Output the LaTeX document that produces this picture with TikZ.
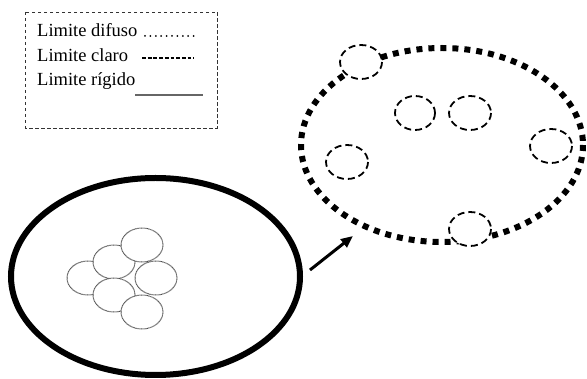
\documentclass[tikz,border=0pt]{standalone}
\usepackage{fontspec}
\setmainfont{Liberation Serif}
\usetikzlibrary{arrows.meta}
\begin{document}
\begin{tikzpicture}[x=1pt,y=-1pt,
  legendbox/.style={draw=black!80, line width=0.9pt, dash pattern=on 3.5pt off 2.5pt},
  legendtext/.style={anchor=base west, inner sep=0pt, font=\fontsize{18.5}{20}\selectfont},
  rigidcell/.style={draw=black, line width=6pt},
  diffusecell/.style={draw=black, line width=6pt, dash pattern=on 6pt off 6pt},
  claro/.style={draw=black, fill=white, line width=1.8pt, dash pattern=on 7pt off 4pt},
  difuso/.style={draw=black!70, fill=white, line width=1pt, dash pattern=on 0.7pt off 0.5pt},
  link/.style={line width=3pt, -{Triangle[length=12pt,width=10pt]}}
]
\useasboundingbox (0,0) rectangle (587,379);

% legend
\draw[legendbox] (25,12) rectangle (217,128);
\node[legendtext] (l1) at (37,37) {Limite difuso};
\node[legendtext] (l2) at (37,62) {Limite claro};
\node[legendtext] (l3) at (37,86) {Limite rígido};
\foreach \i in {0,...,9} \fill (145+5.4*\i,36) circle [radius=1pt];
\draw[line width=2pt, dash pattern=on 3.8pt off 1.9pt] (142,58) -- (194,58);
\draw[line width=1.5pt, black!60] (135,95) -- (203,95);

% right cell (diffuse limit)
\draw[diffusecell] (442,145) ellipse [x radius=141, y radius=97];
\draw[claro] (361,62) ellipse [x radius=21, y radius=17];
\draw[claro] (415,113) ellipse [x radius=20, y radius=17];
\draw[claro] (470,113) ellipse [x radius=21, y radius=17];
\draw[claro] (551,146) ellipse [x radius=21, y radius=17];
\draw[claro] (347,162) ellipse [x radius=21, y radius=17];
\draw[claro] (470,229) ellipse [x radius=21, y radius=17];

% left cell (rigid limit)
\draw[rigidcell] (155.5,276.5) ellipse [x radius=144.5, y radius=98.5];
\draw[difuso] (88,278) ellipse [x radius=21, y radius=17];
\draw[difuso] (114,262) ellipse [x radius=21, y radius=17];
\draw[difuso] (142,245) ellipse [x radius=21, y radius=17];
\draw[difuso] (114,295) ellipse [x radius=21, y radius=17];
\draw[difuso] (156,278) ellipse [x radius=21, y radius=17];
\draw[difuso] (142,312) ellipse [x radius=21, y radius=17];

% arrow
\coordinate (arrS) at (310,270);
\coordinate (arrE) at (353,236);
\draw[link] (arrS) -- (arrE);
\end{tikzpicture}
\end{document}
